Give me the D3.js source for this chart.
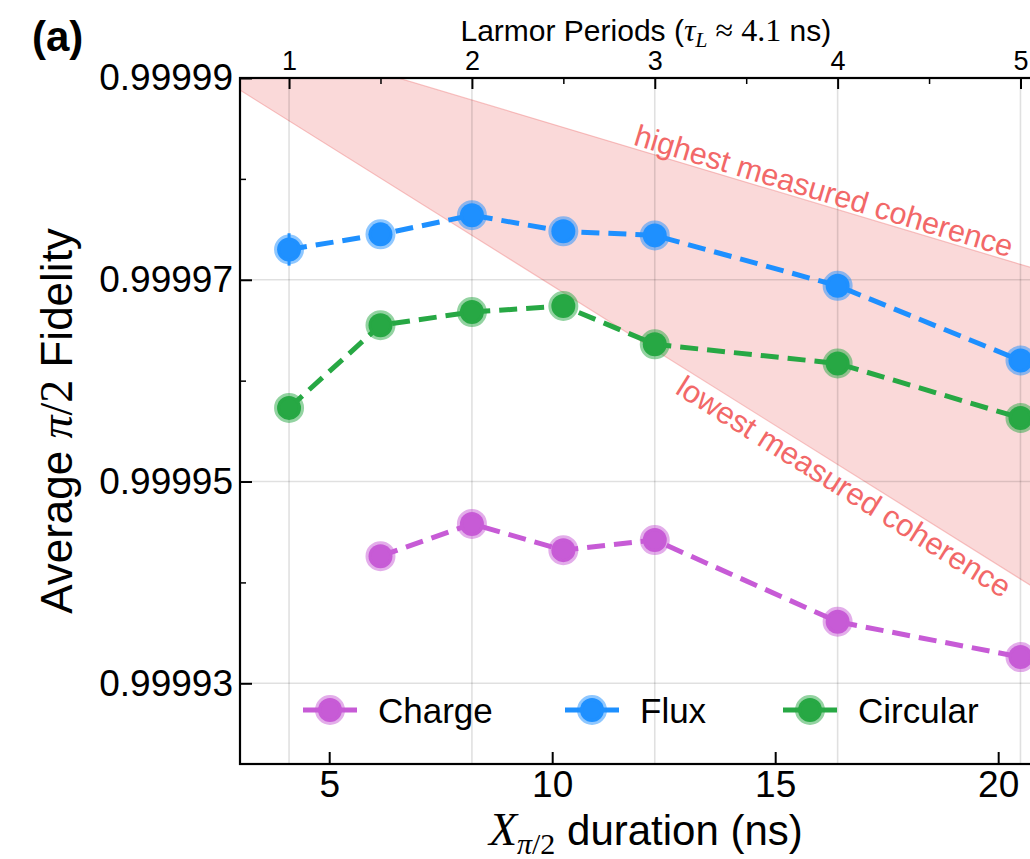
<!doctype html>
<html lang="en">

<head>
  <meta charset="utf-8">
  <title>Average pi/2 fidelity vs pulse duration</title>
  <script src="https://d3js.org/d3.v7.min.js"></script>
  <style>
    body {
      margin: 0;
      background: #fff;
    }

    text {
      font-family: "Liberation Sans", Arial, sans-serif;
      fill: #000;
    }

    .math {
      font-family: "Liberation Serif", "Times New Roman", serif;
    }
  </style>
</head>

<body>
  <div id="my_dataviz"></div>

  <script>
    // pulse durations (ns) -> multiples of half a Larmor period
    var durations = [4.1, 6.15, 8.2, 10.25, 12.3, 16.4, 20.5];
    var chargeX = [6.15, 8.2, 10.25, 12.3, 16.4, 20.5];

    // average fidelities
    var chargeY = [0.9999426, 0.9999458, 0.9999432, 0.9999442, 0.9999361, 0.9999326];
    var fluxY = [0.9999730, 0.9999745, 0.9999764, 0.9999748, 0.9999744, 0.9999694, 0.9999620];
    var circularY = [0.9999573, 0.9999655, 0.9999668, 0.9999674, 0.9999636, 0.9999617, 0.9999563];

    // error bars (mostly hidden behind the markers)
    var chargeErr = [0.8e-6, 0.8e-6, 0.8e-6, 0.8e-6, 0.8e-6, 0.8e-6];
    var fluxErr = [1.6e-6, 0.8e-6, 0.8e-6, 0.8e-6, 0.8e-6, 0.8e-6, 0.8e-6];
    var circularErr = [1.0e-6, 0.8e-6, 0.8e-6, 0.8e-6, 0.8e-6, 0.8e-6, 0.8e-6];

    // shaded band between lowest and highest measured coherence
    var bandX = [3.0, 21.2];
    var bandHigh = [0.9999947, 0.9999706];
    var bandLow = [0.9999888, 0.9999384];

    // ticks
    var xTicks = [5, 10, 15, 20];
    var yTicks = [0.99993, 0.99995, 0.99997, 0.99999];
    var yTickLabels = ["0.99993", "0.99995", "0.99997", "0.99999"];
    var yMinorTicks = [0.99994, 0.99996, 0.99998];
    var larmorTicks = [1, 2, 3, 4, 5];
    var larmorMinorTicks = [1.5, 2.5, 3.5, 4.5];
    var larmorPeriod = 4.1;

    var seriesNames = ["Charge", "Flux", "Circular"];
    var seriesColors = ["#c75bd6", "#1e90ff", "#27a844"];

    // set the dimensions and margins of the graph (plot runs past the right edge)
    var margin = { top: 78, right: -21.7, bottom: 95, left: 240 },
      width = 1030 - margin.left - margin.right,
      height = 859 - margin.top - margin.bottom;

    var root = d3.select("#my_dataviz")
      .append("svg")
      .attr("width", 1030)
      .attr("height", 859);

    var svg = root.append("g")
      .attr("transform", "translate(" + margin.left + "," + margin.top + ")");

    var x = d3.scaleLinear().domain([3.0, 21.2]).range([0, width]);
    var y = d3.scaleLinear().domain([0.999922, 0.99999]).range([height, 0]);

    svg.append("clipPath")
      .attr("id", "plotclip")
      .append("rect")
      .attr("width", width)
      .attr("height", height);

    var plot = svg.append("g").attr("clip-path", "url(#plotclip)");

    // coherence band
    var band = bandX.map(function (d, i) { return { t: d, lo: bandLow[i], hi: bandHigh[i] }; });
    plot.append("path")
      .datum(band)
      .attr("d", d3.area()
        .x(function (d) { return x(d.t); })
        .y0(function (d) { return y(d.lo); })
        .y1(function (d) { return y(d.hi); }))
      .style("fill", "#f08080")
      .style("fill-opacity", 0.3)
      .style("stroke", "#f08080")
      .style("stroke-opacity", 0.45)
      .style("stroke-width", 1.2);

    // grid: vertical at Larmor periods, horizontal at major y ticks
    plot.append("g")
      .selectAll("line")
      .data(larmorTicks)
      .enter()
      .append("line")
      .attr("x1", function (d) { return x(d * larmorPeriod); })
      .attr("x2", function (d) { return x(d * larmorPeriod); })
      .attr("y1", 0)
      .attr("y2", height)
      .style("stroke", "#000")
      .style("stroke-opacity", 0.12)
      .style("stroke-width", 1.6);

    plot.append("g")
      .selectAll("line")
      .data(yTicks)
      .enter()
      .append("line")
      .attr("x1", 0)
      .attr("x2", width)
      .attr("y1", function (d) { return y(d); })
      .attr("y2", function (d) { return y(d); })
      .style("stroke", "#000")
      .style("stroke-opacity", 0.12)
      .style("stroke-width", 1.6);

    // band labels, rotated along the band edges
    function edgeAngle(vals) {
      return Math.atan2(y(vals[1]) - y(vals[0]), x(bandX[1]) - x(bandX[0])) * 180 / Math.PI;
    }

    plot.append("text")
      .attr("transform", "translate(" + x(11.8) + "," + y(0.9999834) + ") rotate(" + edgeAngle(bandHigh) + ")")
      .style("font-size", "30.5px")
      .style("fill", "#f26868")
      .text("highest measured coherence");

    plot.append("text")
      .attr("transform", "translate(" + x(12.73) + "," + y(0.9999588) + ") rotate(" + edgeAngle(bandLow) + ")")
      .style("font-size", "31px")
      .style("fill", "#f26868")
      .text("lowest measured coherence");

    // data series
    var series = [
      { xs: chargeX, ys: chargeY, err: chargeErr },
      { xs: durations, ys: fluxY, err: fluxErr },
      { xs: durations, ys: circularY, err: circularErr }
    ];

    series.forEach(function (s, k) {
      var pts = s.xs.map(function (d, i) { return { t: d, v: s.ys[i], e: s.err[i] }; });
      var col = seriesColors[k];

      plot.append("path")
        .datum(pts)
        .attr("d", d3.line()
          .x(function (d) { return x(d.t); })
          .y(function (d) { return y(d.v); }))
        .style("fill", "none")
        .style("stroke", col)
        .style("stroke-width", 5)
        .style("stroke-dasharray", "18 9");

      plot.append("g")
        .selectAll("line")
        .data(pts)
        .enter()
        .append("line")
        .attr("x1", function (d) { return x(d.t); })
        .attr("x2", function (d) { return x(d.t); })
        .attr("y1", function (d) { return y(d.v - d.e); })
        .attr("y2", function (d) { return y(d.v + d.e); })
        .style("stroke", col)
        .style("stroke-width", 3);

      plot.append("g")
        .selectAll("circle")
        .data(pts)
        .enter()
        .append("circle")
        .attr("cx", function (d) { return x(d.t); })
        .attr("cy", function (d) { return y(d.v); })
        .attr("r", 12)
        .style("fill", col)
        .style("stroke", col)
        .style("stroke-opacity", 0.5)
        .style("stroke-width", 6);
    });

    // legend
    var legendX = [90, 352, 570];
    var legend = svg.append("g").attr("transform", "translate(0," + 632 + ")");
    seriesNames.forEach(function (name, k) {
      var g = legend.append("g").attr("transform", "translate(" + legendX[k] + ",0)");
      g.append("line")
        .attr("x1", -27).attr("x2", 27)
        .style("stroke", seriesColors[k])
        .style("stroke-width", 5);
      g.append("circle")
        .attr("r", 12)
        .style("fill", seriesColors[k])
        .style("stroke", seriesColors[k])
        .style("stroke-opacity", 0.5)
        .style("stroke-width", 6);
      g.append("text")
        .attr("x", 48)
        .attr("y", 12.5)
        .style("font-size", "35px")
        .text(name);
    });

    // Add X axis (bottom)
    var xAxis = svg.append("g")
      .attr("transform", "translate(0," + height + ")")
      .call(d3.axisBottom(x).tickValues(xTicks).tickFormat(d3.format("d"))
        .tickSizeInner(-12).tickSizeOuter(0).tickPadding(7));

    // Add Y axis
    var yAxis = svg.append("g")
      .call(d3.axisLeft(y).tickValues(yTicks).tickFormat(function (d, i) { return yTickLabels[i]; })
        .tickSizeInner(-12).tickSizeOuter(0).tickPadding(7));

    var yMinor = svg.append("g")
      .call(d3.axisLeft(y).tickValues(yMinorTicks).tickFormat("").tickSizeInner(-6).tickSizeOuter(0));

    // Top axis in Larmor periods
    var xTop = d3.scaleLinear()
      .domain([x.domain()[0] / larmorPeriod, x.domain()[1] / larmorPeriod])
      .range([0, width]);

    var topAxis = svg.append("g")
      .call(d3.axisTop(xTop).tickValues(larmorTicks).tickFormat(d3.format("d"))
        .tickSizeInner(-11).tickSizeOuter(0).tickPadding(8));

    var topMinor = svg.append("g")
      .call(d3.axisTop(xTop).tickValues(larmorMinorTicks).tickFormat("").tickSizeInner(-6).tickSizeOuter(0));

    [xAxis, yAxis, yMinor, topAxis, topMinor].forEach(function (a) {
      a.select(".domain").remove();
      a.selectAll(".tick line").style("stroke", "#000").style("stroke-width", 2);
    });
    xAxis.selectAll("text").style("font-size", "37px").style("font-family", null);
    yAxis.selectAll("text").style("font-size", "37px").style("font-family", null);
    topAxis.selectAll("text").style("font-size", "27px").style("font-family", null);
    [yMinor, topMinor].forEach(function (a) {
      a.selectAll(".tick line").style("stroke-width", 1.5);
    });

    // frame
    svg.append("rect")
      .attr("width", width)
      .attr("height", height)
      .style("fill", "none")
      .style("stroke", "#000")
      .style("stroke-width", 2.2);

    // axis titles
    var xTitle = svg.append("text")
      .attr("x", width / 2)
      .attr("y", height + 81)
      .attr("text-anchor", "middle")
      .style("font-size", "42px");
    xTitle.append("tspan").attr("class", "math").style("font-style", "italic").style("font-size", "46px").text("X");
    xTitle.append("tspan").attr("class", "math").style("font-style", "italic").style("font-size", "30px").attr("dy", 9).text("π");
    xTitle.append("tspan").attr("class", "math").style("font-size", "30px").text("/2");
    xTitle.append("tspan").attr("dy", -9).text(" duration (ns)");

    var yTitle = svg.append("text")
      .attr("transform", "translate(" + (-168) + "," + (height / 2) + ") rotate(-90)")
      .attr("text-anchor", "middle")
      .style("font-size", "44px");
    yTitle.append("tspan").text("Average ");
    yTitle.append("tspan").attr("class", "math").style("font-style", "italic").style("font-size", "46px").text("π");
    yTitle.append("tspan").attr("class", "math").style("font-size", "46px").text("/2");
    yTitle.append("tspan").text(" Fidelity");

    var topTitle = svg.append("text")
      .attr("x", width / 2)
      .attr("y", -37)
      .attr("text-anchor", "middle")
      .style("font-size", "30px");
    topTitle.append("tspan").text("Larmor Periods (");
    topTitle.append("tspan").attr("class", "math").style("font-style", "italic").style("font-size", "32px").text("τ");
    topTitle.append("tspan").attr("class", "math").style("font-style", "italic").style("font-size", "22px").attr("dy", 6).text("L");
    topTitle.append("tspan").attr("class", "math").style("font-size", "32px").attr("dy", -6).text(" ≈ 4.1");
    topTitle.append("tspan").text(" ns)");

    // panel label
    root.append("text")
      .attr("x", 32)
      .attr("y", 51)
      .style("font-size", "42px")
      .style("font-weight", "bold")
      .text("(a)");
  </script>
</body>

</html>
